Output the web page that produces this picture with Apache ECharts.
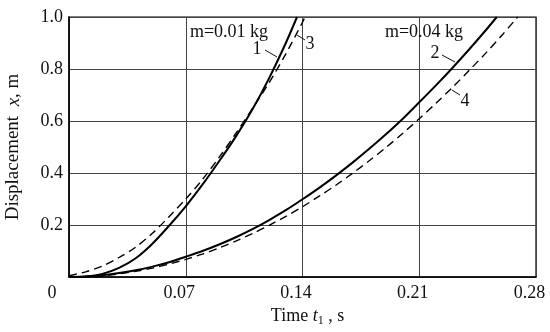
<!DOCTYPE html>
<html>
<head>
<meta charset="utf-8">
<script src="https://cdn.jsdelivr.net/npm/echarts@6/dist/echarts.min.js"></script>
<style>html,body{margin:0;padding:0;background:#fff}#c{width:550px;height:332px}</style>
</head>
<body>
<div id="c"></div>
<script>
// Time values (s)
const t1 = [0, 0.01, 0.02, 0.03, 0.04, 0.05, 0.06, 0.07, 0.08, 0.09, 0.10, 0.11, 0.12, 0.13, 0.1367];
const curve1 = [0, 0.002, 0.012, 0.035, 0.072, 0.128, 0.197, 0.272, 0.355, 0.445, 0.54, 0.645, 0.765, 0.90, 1.0];
const t3 = [0, 0.01, 0.02, 0.03, 0.04, 0.05, 0.06, 0.07, 0.08, 0.09, 0.10, 0.11, 0.12, 0.13, 0.14, 0.1415];
const curve3 = [0.005, 0.02, 0.042, 0.075, 0.115, 0.168, 0.232, 0.300, 0.375, 0.46, 0.552, 0.648, 0.748, 0.858, 0.98, 1.0];
const t2 = [0, 0.01, 0.02, 0.03, 0.04, 0.05, 0.06, 0.07, 0.08, 0.09, 0.10, 0.11, 0.12, 0.13, 0.14, 0.15, 0.16, 0.17, 0.18, 0.19, 0.20, 0.21, 0.22, 0.23, 0.24, 0.25, 0.2565];
const curve2 = [0, 0.002, 0.007, 0.015, 0.026, 0.040, 0.057, 0.078, 0.100, 0.125, 0.153, 0.184, 0.219, 0.257, 0.299, 0.343, 0.390, 0.440, 0.493, 0.549, 0.608, 0.672, 0.737, 0.805, 0.876, 0.950, 1.0];
const t4 = [0, 0.01, 0.02, 0.03, 0.04, 0.05, 0.06, 0.07, 0.08, 0.09, 0.10, 0.11, 0.12, 0.13, 0.14, 0.15, 0.16, 0.17, 0.18, 0.19, 0.20, 0.21, 0.22, 0.23, 0.24, 0.25, 0.26, 0.269];
const curve4 = [0, 0.001, 0.005, 0.012, 0.022, 0.034, 0.050, 0.068, 0.088, 0.112, 0.138, 0.167, 0.199, 0.233, 0.270, 0.311, 0.353, 0.399, 0.447, 0.498, 0.552, 0.609, 0.668, 0.730, 0.795, 0.862, 0.933, 1.0];
const xTicks = [0, 0.07, 0.14, 0.21, 0.28];
const yTicks = [0, 0.2, 0.4, 0.6, 0.8, 1.0];

const zip = (xs, ys) => xs.map((x, i) => [x, ys[i]]);
const FONT = '"Liberation Serif", "Times New Roman", serif';

const chart = echarts.init(document.getElementById('c'));
function mkSeries(name, xs, ys, dashed) {
  return {
    name, type: 'line', data: zip(xs, ys), showSymbol: false, smooth: 0.3,
    clip: true, silent: true,
    lineStyle: dashed ? {color: '#000', width: 1.4, type: [8, 5]} : {color: '#000', width: 2}
  };
}
chart.setOption({
  animation: false,
  backgroundColor: '#fff',
  textStyle: {fontFamily: FONT},
  grid: {left: 69, right: 14, top: 17, bottom: 55, show: true, borderColor: '#000', borderWidth: 1.2,
    containLabel: false, outerBoundsMode: 'none'},
  xAxis: {
    type: 'value', min: xTicks[0], max: xTicks[xTicks.length - 1], interval: 0.07,
    axisLine: {lineStyle: {color: '#000', width: 1.5}},
    axisTick: {show: false},
    splitLine: {lineStyle: {color: '#444', width: 1}},
    axisLabel: {color: '#111', fontSize: 18, fontFamily: FONT, margin: 7, padding: [0, 13, 0, 0],
      formatter: v => v === 0 ? '' : v.toFixed(2)},
    name: '{n|Time }{i|t}{s|1}{n| , s}', nameLocation: 'middle', nameGap: 27,
    nameTextStyle: {
      padding: [0, 0, 0, 10],
      rich: {
        n: {fontSize: 18, fontFamily: FONT, color: '#111'},
        i: {fontSize: 18, fontFamily: FONT, fontStyle: 'italic', color: '#111'},
        s: {fontSize: 12, fontFamily: FONT, color: '#111', padding: [9, 0, 0, 0]}
      }
    }
  },
  yAxis: {
    type: 'value', min: yTicks[0], max: yTicks[yTicks.length - 1], interval: 0.2,
    axisLine: {show: true, lineStyle: {color: '#000', width: 1.5}},
    axisTick: {show: false},
    splitLine: {lineStyle: {color: '#444', width: 1}},
    axisLabel: {color: '#111', fontSize: 18, fontFamily: FONT, margin: 6,
      formatter: v => v === 0 ? '' : v.toFixed(1)},
    name: '{n|Displacement  }{i|x}{n|, m}', nameLocation: 'middle', nameGap: 46, nameRotate: 90,
    nameTextStyle: {
      rich: {
        n: {fontSize: 19, fontFamily: FONT, color: '#111'},
        i: {fontSize: 19, fontFamily: FONT, fontStyle: 'italic', color: '#111'}
      }
    }
  },
  series: [
    mkSeries('1', t1, curve1, false),
    mkSeries('3', t3, curve3, true),
    mkSeries('2', t2, curve2, false),
    mkSeries('4', t4, curve4, true)
  ]
});

const txt = (x, y, s, align) => ({type: 'text', x, y, style: {text: s, font: '18px ' + FONT, fill: '#111', textAlign: align || 'center', textVerticalAlign: 'middle'}});
const seg = (x1, y1, x2, y2) => ({type: 'line', shape: {x1, y1, x2, y2}, style: {stroke: '#111', lineWidth: 1}});
chart.setOption({
  graphic: [
    txt(52, 293, '0'),
    txt(229, 32, 'm=0.01 kg'),
    txt(424, 32, 'm=0.04 kg'),
    txt(257, 49, '1'), seg(265, 50, 277, 57),
    txt(310, 44, '3'), seg(297, 35, 305, 40),
    txt(435, 53, '2'), seg(442, 55, 455, 62),
    txt(465, 101, '4'), seg(452, 90, 460, 95)
  ]
});
</script>
</body>
</html>
